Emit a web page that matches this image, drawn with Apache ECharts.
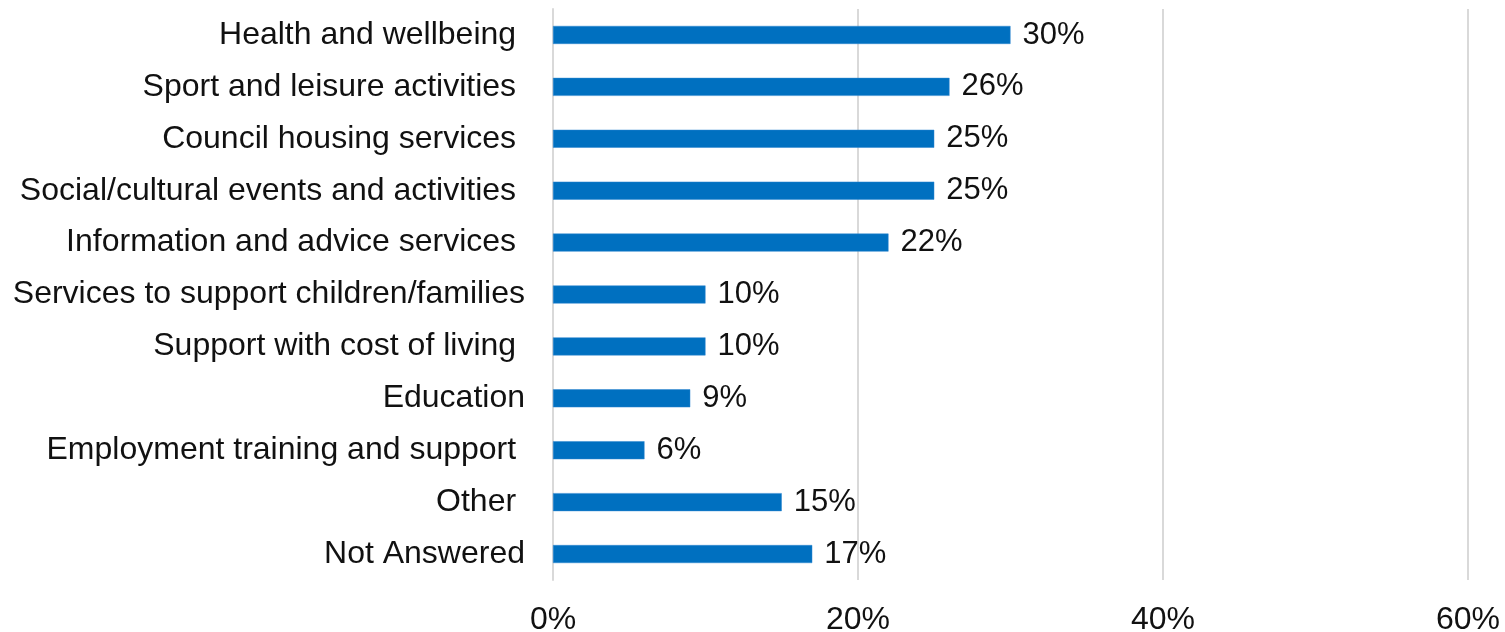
<!DOCTYPE html>
<html>
<head>
<meta charset="utf-8">
<script src="https://cdn.jsdelivr.net/npm/echarts@6/dist/echarts.min.js"></script>
<style>
  html, body { margin: 0; padding: 0; background: #fff; }
  #chart { width: 1505px; height: 632px; }
</style>
</head>
<body>
<div id="chart"></div>
<script>
// Services of interest, share of respondents (%), top to bottom
const categories = [
  'Health and wellbeing ',
  'Sport and leisure activities ',
  'Council housing services ',
  'Social/cultural events and activities ',
  'Information and advice services ',
  'Services to support children/families',
  'Support with cost of living ',
  'Education',
  'Employment training and support ',
  'Other ',
  'Not Answered'
];
const values = [30, 26, 25, 25, 22, 10, 10, 9, 6, 15, 17];
const xTicks = [0, 20, 40, 60];

const FONT = '"Liberation Sans", Arial, sans-serif';
const chart = echarts.init(document.getElementById('chart'), null, { renderer: 'canvas' });

chart.setOption({
  animation: false,
  backgroundColor: '#ffffff',
  grid: {
    left: 553, right: 37, top: 9, bottom: 52,
    containLabel: false,
    outerBoundsMode: 'none'
  },
  xAxis: {
    type: 'value',
    min: xTicks[0],
    max: xTicks[xTicks.length - 1],
    interval: xTicks[1] - xTicks[0],
    axisLine: { show: false },
    axisTick: { show: false },
    splitLine: { show: true, lineStyle: { color: '#d9d9d9', width: 2 } },
    axisLabel: {
      formatter: v => v + '%',
      color: '#111111',
      fontFamily: FONT,
      fontSize: 32,
      margin: 24
    }
  },
  yAxis: {
    type: 'category',
    inverse: true,
    data: categories,
    axisLine: { show: true, lineStyle: { color: '#d9d9d9', width: 2 } },
    axisTick: { show: false },
    axisLabel: {
      color: '#111111',
      fontFamily: FONT,
      fontSize: 32,
      margin: 28,
      padding: [3, 0, 0, 0]
    }
  },
  series: [{
    type: 'bar',
    data: values,
    barWidth: 18,
    itemStyle: { color: '#0070c0', borderColor: '#2e86d0', borderWidth: 0.5 },
    label: {
      show: true,
      position: 'right',
      distance: 12,
      formatter: p => p.value + '%',
      color: '#111111',
      fontFamily: FONT,
      fontSize: 31
    }
  }]
});
</script>
</body>
</html>
